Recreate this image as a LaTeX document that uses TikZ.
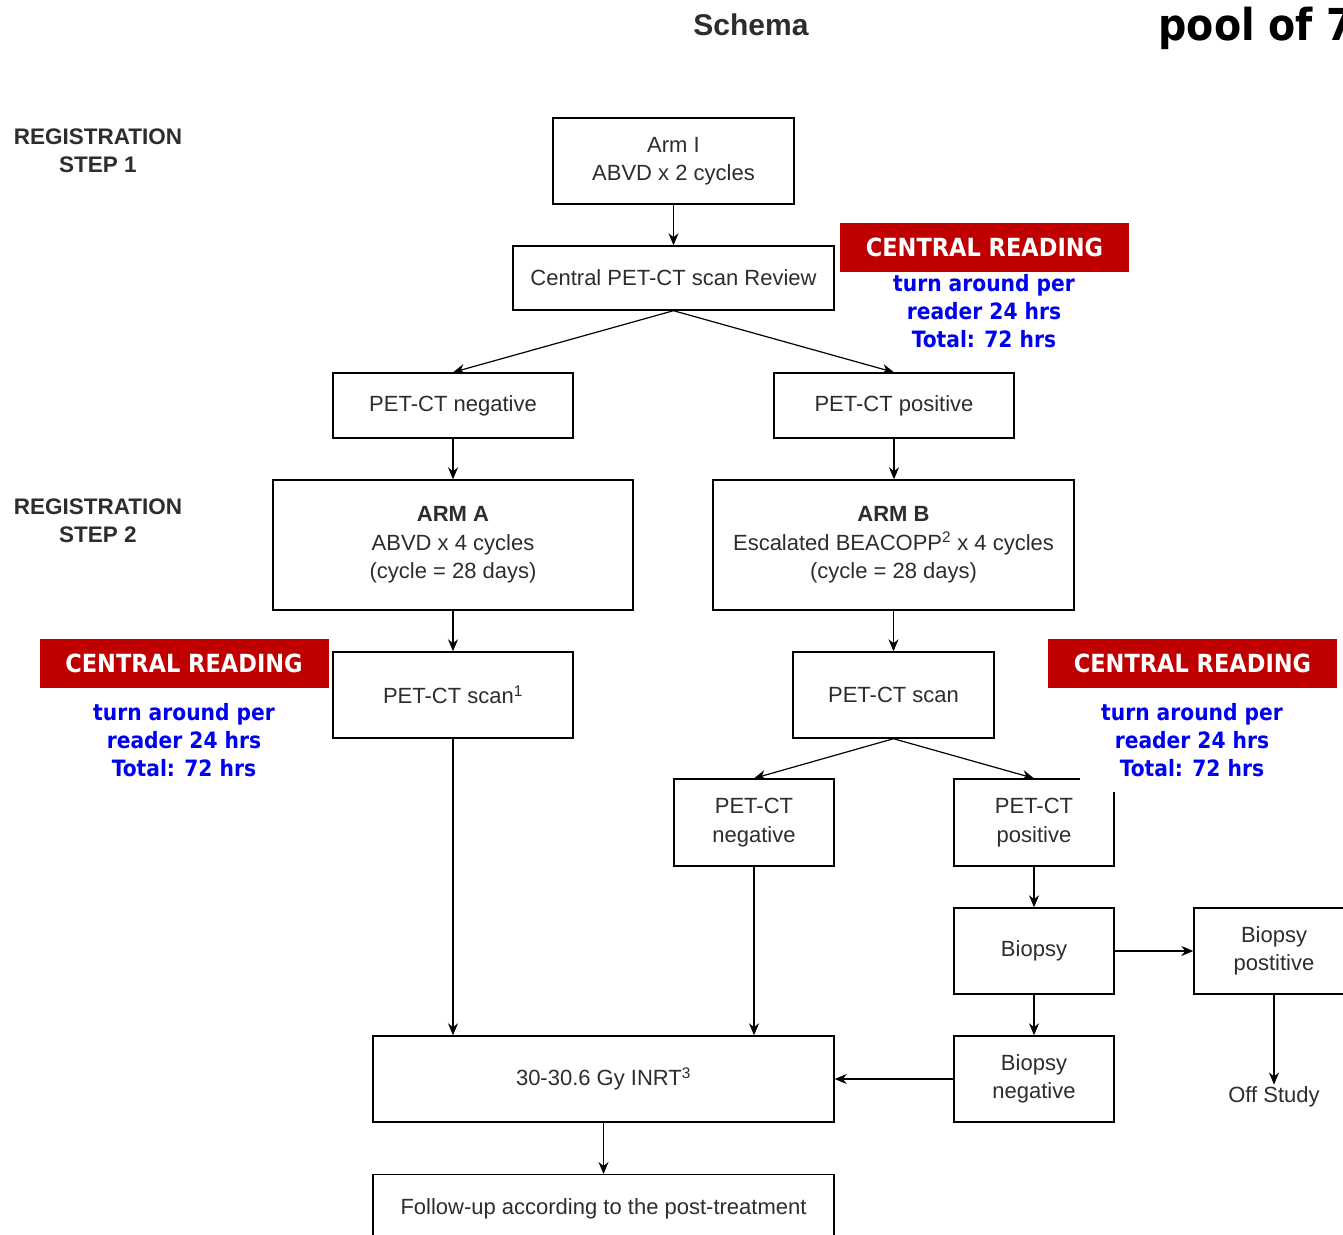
\documentclass[tikz,border=0pt]{standalone}
\usepackage{fontspec}
\setmainfont{Liberation Sans}
\newfontfamily\comic{DejaVu Sans Condensed}
\usetikzlibrary{arrows.meta}
\definecolor{txt}{RGB}{45,45,45}
\definecolor{redbox}{RGB}{192,0,0}
\definecolor{bluetxt}{RGB}{0,0,240}
\tikzset{
 box/.style={draw=black, line width=1.4pt, fill=white, inner sep=0pt, align=center, text=txt, font=\fontsize{22}{28.5}\selectfont},
 conn/.style={line width=1.2pt, -{Stealth[length=12pt,width=10pt]}},
 redlabel/.style={fill=redbox, text=white, inner sep=0pt, minimum width=289pt, minimum height=49pt, font=\comic\bfseries\fontsize{25}{28}\selectfont},
 bluelabel/.style={text=bluetxt, align=center, inner xsep=21pt, inner ysep=15pt, font=\comic\bfseries\fontsize{22.5}{28}\selectfont},
 reg/.style={align=center, text=txt, font=\bfseries\fontsize{22.5}{28}\selectfont}
}
\begin{document}
\begin{tikzpicture}[x=1pt,y=-1pt]
\useasboundingbox (0,0) rectangle (1343,1234);
\clip (0,0) rectangle (1343,1234);
\fill[white] (0,0) rectangle (1343,1234);
% titles
\node[font=\bfseries\fontsize{30}{34}\selectfont, text=txt] (title) at (751,25) {Schema};
\node[anchor=base west, font=\comic\bfseries\fontsize{44}{44}\selectfont] (pool) at (1155,40) {pool of 7};
\node[reg] (reg1) at (98,151) {REGISTRATION\\STEP 1};
\node[reg] (reg2) at (98,521) {REGISTRATION\\STEP 2};
% boxes
\node[box, minimum width=241pt, minimum height=86pt] (arm1) at (673.5,161) {Arm I\\ABVD x 2 cycles};
\node[box, minimum width=321pt, minimum height=64pt] (review) at (673.5,278) {Central PET-CT scan Review};
\node[box, minimum width=240pt, minimum height=65pt] (neg) at (453,405.5) {PET-CT negative};
\node[box, minimum width=240pt, minimum height=65pt] (pos) at (894,405.5) {PET-CT positive};
\node[box, minimum width=360pt, minimum height=130pt] (armA) at (453,545) {\textbf{ARM A}\\ABVD x 4 cycles\\(cycle = 28 days)};
\node[box, minimum width=361pt, minimum height=130pt] (armB) at (893.5,545) {\textbf{ARM B}\\Escalated BEACOPP\textsuperscript{2} x 4 cycles\\(cycle = 28 days)};
\node[box, minimum width=240pt, minimum height=86pt] (scanA) at (453,695) {PET-CT scan\textsuperscript{1}};
\node[box, minimum width=201pt, minimum height=86pt] (scanB) at (893.5,695) {PET-CT scan};
\node[box, minimum width=160pt, minimum height=87pt] (negS) at (754,822.5) {PET-CT\\negative};
\node[box, minimum width=160pt, minimum height=87pt] (posS) at (1034,822.5) {PET-CT\\positive};
\node[box, minimum width=160pt, minimum height=86pt] (biopsy) at (1034,951) {Biopsy};
\node[box, minimum width=160pt, minimum height=86pt] (bpos) at (1274,951) {Biopsy\\postitive};
\node[box, minimum width=160pt, minimum height=86pt] (bneg) at (1034,1079) {Biopsy\\negative};
\node[box, minimum width=461pt, minimum height=86pt] (inrt) at (603.5,1079) {30-30.6 Gy INRT\textsuperscript{3}};
\node[box, minimum width=461pt, anchor=north, inner ysep=24pt, text depth=50pt] (follow) at (603.5,1174) {Follow-up according to the post-treatment};
\node[text=txt, font=\fontsize{22}{28}\selectfont, inner sep=2pt] (off) at (1274,1097) {Off Study};
% connectors
\draw[conn] (arm1.south) -- (review.north);
\draw[conn] (review.south) -- (neg.north);
\draw[conn] (review.south) -- (pos.north);
\draw[conn] (neg.south) -- (neg.south |- armA.north);
\draw[conn] (pos.south) -- (pos.south |- armB.north);
\draw[conn] (armA.south) -- (scanA.north);
\draw[conn] (armB.south) -- (armB.south |- scanB.north);
\draw[conn] (scanB.south) -- (negS.north);
\draw[conn] (scanB.south) -- (posS.north);
\draw[conn] (posS.south) -- (biopsy.north);
\draw[conn] (biopsy.east) -- (bpos.west);
\draw[conn] (bpos.south) -- (off.north);
\draw[conn] (biopsy.south) -- (bneg.north);
\draw[conn] (bneg.west) -- (inrt.east);
\draw[conn] (scanA.south) -- (scanA.south |- inrt.north);
\draw[conn] (negS.south) -- (negS.south |- inrt.north);
\draw[conn] (inrt.south) -- (follow.north);
% central reading labels
\node[bluelabel] (tr1) at (984,311) {turn around per\\reader 24 hrs\\Total: 72 hrs};
\node[redlabel] (cr1) at (984.5,247.5) {CENTRAL READING};
\node[bluelabel] (tr2) at (184,740) {turn around per\\reader 24 hrs\\Total: 72 hrs};
\node[redlabel] (cr2) at (184,663.5) {CENTRAL READING};
\node[bluelabel, fill=white] (tr3) at (1192,740) {turn around per\\reader 24 hrs\\Total: 72 hrs};
\node[redlabel] (cr3) at (1192.5,663.5) {CENTRAL READING};
\end{tikzpicture}
\end{document}
